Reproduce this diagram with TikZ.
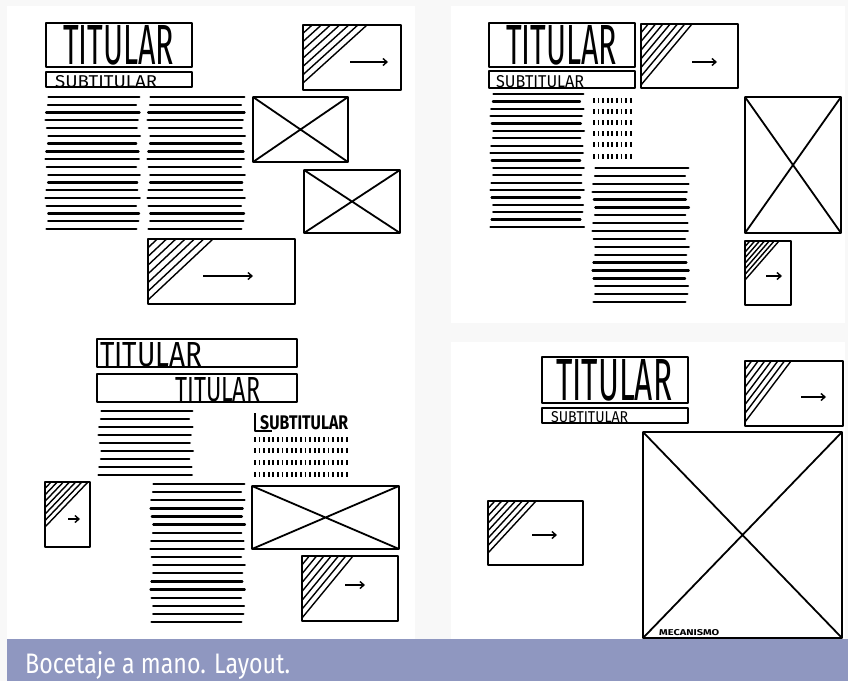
\documentclass[tikz,border=0pt]{standalone}
\usepackage{fontspec}
\setmainfont{Fira Sans}
\usetikzlibrary{arrows.meta}
\definecolor{capbar}{RGB}{143,151,192}
\definecolor{paper}{RGB}{248,248,248}

\newcommand{\xbox}[4]{\draw[box] (#1,#2) rectangle (#3,#4) (#1,#2) -- (#3,#4) (#1,#4) -- (#3,#2);}
\newcommand{\promo}[9]{%
	\draw[box] (#1,#2) rectangle (#3,#4);
	\draw[hatch] (#5,#2) -- (#1,#6);
	\foreach \k in {1,...,6}
		\draw[hatch] ({#1+\k/7*(#5-#1)},#2) -- (#1,{#2+\k/7*(#6-#2)});
	\draw[arr] (#7,#9) -- (#8,#9);}
\newcommand{\txtlines}[5]{%
	\foreach \k in {1,...,#5}
		\draw[txt] ({#1+1.5*sin(\k*71)},{#3+(\k-1)*(#4-#3)/(#5-1)}) -- ({#2+2*sin(\k*137)},{#3+(\k-1)*(#4-#3)/(#5-1)});}
\newcommand{\dashrows}[5]{%
	\foreach \k in {1,...,#5}
		\draw[dots] (#1,{#3+(\k-1)*(#4-#3)/(#5-1)}) -- (#2,{#3+(\k-1)*(#4-#3)/(#5-1)});}

\begin{document}
\begin{tikzpicture}[x = 1pt, y = -1pt,
	box/.style = {line width = 1.8pt, line join = round},
	txt/.style = {line width = 2.3pt, line cap = round},
	hatch/.style = {line width = 1.4pt},
	dots/.style = {line width = 5pt, dash pattern = on 1.8pt off 2.8pt},
	arr/.style = {line width = 1.4pt, -{Straight Barb[length = 4pt, width = 7pt]}},
	lbl/.style = {anchor = north west, inner sep = 0pt}]
	\useasboundingbox (0,0) rectangle (848,681);
	\fill[paper] (0,0) rectangle (848,681);
	\fill[white] (7,6) rectangle (415,639);
	\fill[white] (451,6) rectangle (845,323);
	\fill[white] (451,342) rectangle (845,639);

	\draw[box] (46,23) rectangle (192,67);
	\node[lbl] (titA) at (63,25) {\resizebox{111pt}{39pt}{TITULAR}};
	\draw[box] (46,72) rectangle (192,87);
	\node[lbl] (subA) at (55,75) {\resizebox{102pt}{12pt}{SUBTITULAR}};
	\txtlines{47}{138}{97}{229}{18}
	\txtlines{149}{243}{97}{229}{18}
	\xbox{253}{97}{348}{162}
	\xbox{304}{170}{400}{233}
	\promo{303}{25}{401}{90}{367}{83}{350}{388}{62}
	\promo{148}{239}{295}{304}{213}{300}{203}{253}{276}

	\draw[box] (489,23) rectangle (635,67);
	\node[lbl] (titB) at (506,25) {\resizebox{111pt}{39pt}{TITULAR}};
	\draw[box] (489,71) rectangle (635,88);
	\node[lbl] (subB) at (496,75) {\resizebox{88pt}{12pt}{SUBTITULAR}};
	\promo{641}{24}{738}{88}{692}{85}{692}{717}{62}
	\txtlines{492}{582}{94}{227}{19}
	\dashrows{593}{633}{100}{156}{6}
	\txtlines{594}{687}{168}{302}{18}
	\xbox{745}{97}{841}{233}
	\promo{745}{241}{791}{305}{779}{280}{766}{782}{276}

	\draw[box] (97,339) rectangle (297,367);
	\node[lbl] (titC) at (100,342) {\resizebox{102pt}{24pt}{TITULAR}};
	\draw[box] (97,374) rectangle (297,402);
	\node[lbl] (titD) at (175,377) {\resizebox{85pt}{24pt}{TITULAR}};
	\txtlines{100}{191}{411}{475}{9}
	\draw[box] (255,413) -- (255,431) -- (272,431);
	\node[lbl] (subC) at (260,415) {\resizebox{88pt}{14pt}{\bfseries SUBTITULAR}};
	\dashrows{254}{348}{439}{474}{4}
	\promo{45}{482}{90}{547}{88}{527}{68}{80}{519}
	\txtlines{152}{243}{484}{622}{18}
	\xbox{252}{486}{399}{549}
	\promo{302}{556}{398}{621}{353}{618}{345}{365}{585}

	\draw[box] (542,357) rectangle (688,403);
	\node[lbl] (titE) at (556,359) {\resizebox{116pt}{41pt}{TITULAR}};
	\draw[box] (542,408) rectangle (688,423);
	\node[lbl] (subE) at (551,411) {\resizebox{77pt}{11pt}{SUBTITULAR}};
	\promo{745}{361}{843}{426}{791}{422}{801}{826}{397}
	\xbox{643}{432}{842}{638}
	\node[lbl] (mecE) at (659,629) {\resizebox{60pt}{6pt}{\bfseries MECANISMO}};
	\promo{488}{501}{583}{565}{536}{553}{532}{557}{535}

	\fill[capbar] (7,639) rectangle (848,681);
	\node[anchor = base west, inner sep = 0pt, text = white] (caption) at (25,673) {\resizebox{265pt}{22pt}{Bocetaje a mano. Layout.}};
\end{tikzpicture}
\end{document}
